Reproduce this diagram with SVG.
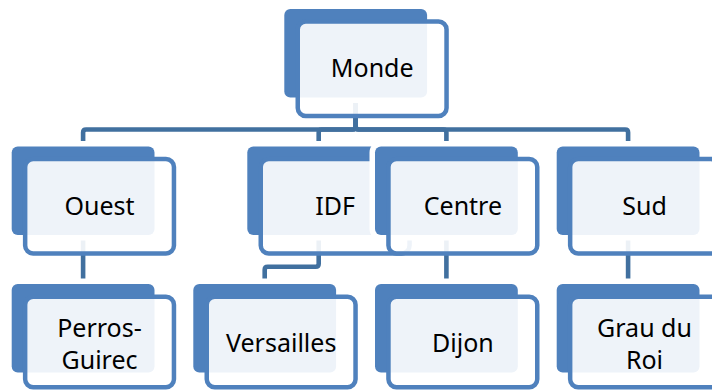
<svg xmlns="http://www.w3.org/2000/svg" width="712" height="391" viewBox="0 0 712 391">
<style>
.back{fill:#4f81bd;stroke:#ffffff;stroke-width:11;paint-order:stroke}
.front{fill:#ffffff;fill-opacity:0.9;stroke:#4f81bd;stroke-width:4.5}
.lbl{font-family:"Noto Sans","Liberation Sans",sans-serif;font-size:25px;fill:#000000;text-anchor:middle}
.con{fill:none;stroke:#41709f;stroke-width:4.6;stroke-linejoin:round}
</style>
<rect width="712" height="391" fill="#ffffff"/>
<g id="connectors">
<path class="con" d="M355.7,97 V126.5 Q355.7,129.5 352.7,129.5 H86.1 Q83.1,129.5 83.1,132.5 V146.5"/>
<path class="con" d="M355.7,97 V126.5 Q355.7,129.5 352.7,129.5 H321.7 Q318.7,129.5 318.7,132.5 V146.5"/>
<path class="con" d="M355.7,97 V126.5 Q355.7,129.5 358.7,129.5 H443.4 Q446.4,129.5 446.4,132.5 V146.5"/>
<path class="con" d="M355.7,97 V126.5 Q355.7,129.5 358.7,129.5 H625.1 Q628.1,129.5 628.1,132.5 V146.5"/>
<path class="con" d="M83.1,235 V284"/>
<path class="con" d="M318.7,235 V263.8 Q318.7,266.8 315.7,266.8 H267.7 Q264.7,266.8 264.7,269.8 V284"/>
<path class="con" d="M446.4,235 V284"/>
<path class="con" d="M628.1,235 V284"/>
</g>
<g id="monde">
<rect class="back" x="284.3" y="9" width="142.8" height="88.5" rx="6"/>
<rect class="front" x="297.75" y="21.55" width="148.8" height="94.5" rx="8"/>
<text class="lbl" x="372.2" y="76.7">Monde</text>
</g>
<g id="ouest">
<rect class="back" x="11.7" y="146.5" width="142.8" height="88.5" rx="6"/>
<rect class="front" x="25.15" y="159.05" width="148.8" height="94.5" rx="8"/>
<text class="lbl" x="99.5" y="215">Ouest</text>
</g>
<g id="idf">
<rect class="back" x="247.3" y="146.5" width="142.8" height="88.5" rx="6"/>
<rect class="front" x="260.75" y="159.05" width="148.8" height="94.5" rx="8"/>
<text class="lbl" x="335.2" y="215">IDF</text>
</g>
<g id="centre">
<rect class="back" x="375" y="146.5" width="142.8" height="88.5" rx="6"/>
<rect class="front" x="388.45" y="159.05" width="148.8" height="94.5" rx="8"/>
<text class="lbl" x="462.9" y="215">Centre</text>
</g>
<g id="sud">
<rect class="back" x="556.7" y="146.5" width="142.8" height="88.5" rx="6"/>
<rect class="front" x="570.15" y="159.05" width="148.8" height="94.5" rx="8"/>
<text class="lbl" x="644.5" y="215">Sud</text>
</g>
<g id="perros-guirec">
<rect class="back" x="11.7" y="284" width="142.8" height="88.5" rx="6"/>
<rect class="front" x="25.15" y="296.75" width="148.8" height="90.5" rx="8"/>
<text class="lbl" x="99.5" y="336.7">Perros-</text>
<text class="lbl" x="99.5" y="369">Guirec</text>
</g>
<g id="versailles">
<rect class="back" x="193.3" y="284" width="142.8" height="88.5" rx="6"/>
<rect class="front" x="206.75" y="296.75" width="148.8" height="90.5" rx="8"/>
<text class="lbl" x="281.2" y="352.3">Versailles</text>
</g>
<g id="dijon">
<rect class="back" x="375" y="284" width="142.8" height="88.5" rx="6"/>
<rect class="front" x="388.45" y="296.75" width="148.8" height="90.5" rx="8"/>
<text class="lbl" x="462.9" y="352.3">Dijon</text>
</g>
<g id="grau-du-roi">
<rect class="back" x="556.7" y="284" width="142.8" height="88.5" rx="6"/>
<rect class="front" x="570.15" y="296.75" width="148.8" height="90.5" rx="8"/>
<text class="lbl" x="644.5" y="336.5">Grau du</text>
<text class="lbl" x="644.5" y="368.5">Roi</text>
</g>
</svg>
